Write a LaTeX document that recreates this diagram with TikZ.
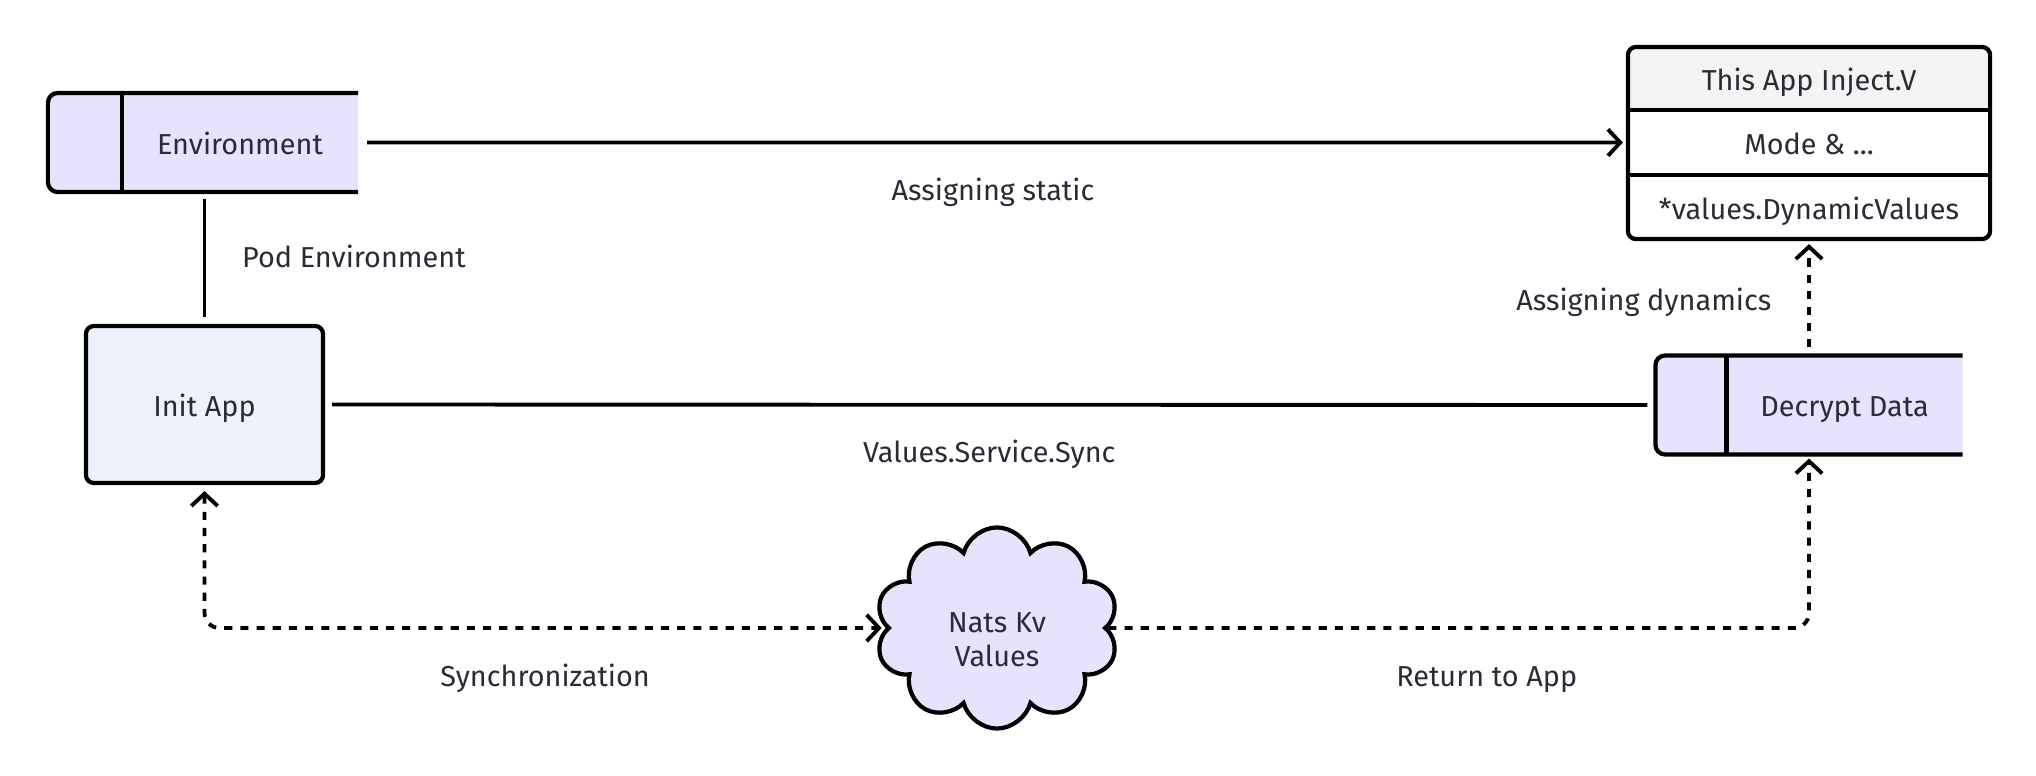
\documentclass[tikz,border=0pt]{standalone}
\usepackage{fontspec}
\setmainfont{Fira Sans}
\usetikzlibrary{arrows.meta, shapes.symbols, positioning, backgrounds}

\definecolor{lav}{HTML}{E8E2FD}
\definecolor{paleblue}{HTML}{EEF2FC}
\definecolor{hdr}{HTML}{F4F4F4}
\definecolor{ink}{HTML}{2A2B36}

\begin{document}
\begin{tikzpicture}[
  x=0.01cm, y=-0.01cm,
  font=\fontsize{8.2}{9.8}\selectfont, text=ink,
  boxtext/.style={text height=0.68em, text depth=0pt},
  lbl/.style={text height=0.75em, text depth=0.25em},
  tagbox/.style={rectangle, boxtext, minimum width=2.36cm, minimum height=0.99cm,
    inner sep=0pt, outer sep=0pt},
  appbox/.style={rectangle, boxtext, draw=black, line width=1.2pt, rounded corners=2.3pt,
    fill=paleblue, minimum width=2.37cm, minimum height=1.57cm, outer sep=0pt},
  row/.style={rectangle, boxtext, minimum width=3.62cm, inner sep=0pt, outer sep=0pt},
  kvcloud/.style={cloud, cloud puffs=10, cloud ignores aspect, draw=black,
    line width=1.2pt, fill=lav, minimum width=2.43cm, minimum height=2.01cm,
    inner sep=0pt},
  edge/.style={line width=1.2pt},
  conn/.style={line width=1.1pt},
  arr/.style={conn, -{Straight Barb[length=3.5pt, width=7.5pt]}},
  arrs/.style={conn, {Straight Barb[length=3.5pt, width=7.5pt]}-{Straight Barb[length=3.5pt, width=7.5pt]}},
  dots/.style={dash pattern=on 2.3pt off 2.3pt}
]
\useasboundingbox (0,0) rectangle (2036,776);

% boxes
\node[tagbox] (env) at (240,142.5) {Environment};
\node[appbox] (init) at (204.5,404.5) {Init App};
\node[tagbox] (dec) at (1844.5,405) {Decrypt Data};
\node[kvcloud] (kv) at (997,628) {};
\node[align=center] (kvtext) at (997,640) {Nats Kv\\Values};

% injected values table
\node[row, minimum height=0.63cm] (h1) at (1809,78.5) {This App Inject.V};
\node[row, minimum height=0.65cm, below=0pt of h1] (h2) {Mode \& ...};
\node[row, minimum height=0.64cm, below=0pt of h2] (h3) {*values.DynamicValues};

\begin{scope}[on background layer]
\draw[edge, fill=lav, rounded corners=2.8pt] (env.north east) -- ([xshift=-0.74cm]env.north west)
  -- ([xshift=-0.74cm]env.south west) -- (env.south east);
\draw[edge, fill=lav, rounded corners=2.8pt] (dec.north east) -- ([xshift=-0.71cm]dec.north west)
  -- ([xshift=-0.71cm]dec.south west) -- (dec.south east);
\fill[white, rounded corners=2.3pt] (h1.north west) rectangle (h3.south east);
\fill[hdr] (h1.south west) [rounded corners=2.3pt] -- (h1.north west) -- (h1.north east)
  [sharp corners] -- (h1.south east) -- cycle;
\end{scope}
\draw[edge] (env.north west) -- (env.south west);
\draw[edge] (dec.north west) -- (dec.south west);
\draw[edge, rounded corners=2.3pt] (h1.north west) rectangle (h3.south east);
\draw[edge] (h1.south west) -- (h1.south east);
\draw[edge] (h2.south west) -- (h2.south east);

% connectors
\draw[arr, shorten <=0.09cm, shorten >=0.05cm] (env.east) -- node[lbl, below=0.18cm] {Assigning static} (h2.west);
\draw[conn, shorten <=0.07cm, shorten >=0.09cm] (env.south -| init.north) -- node[lbl, right=0.24cm] {Pod Environment} (init.north);
\draw[conn, shorten <=0.09cm, shorten >=0.08cm] (init.east) -- node[lbl, below=0.18cm] {Values.Service.Sync} ([xshift=-0.71cm]dec.west);
\draw[arr, dots, shorten <=0.08cm, shorten >=0.05cm] (dec.north -| h3.south) -- node[lbl, left=0.24cm, yshift=-0.04cm] {Assigning dynamics} (h3.south);
\draw[arrs, dots, rounded corners=0.15cm, shorten <=0.08cm, shorten >=0.04cm] (init.south) |- node[lbl, pos=0.75, below=0.18cm] {Synchronization} (kv.west);
\draw[arr, dots, rounded corners=0.15cm, shorten >=0.04cm] (kv.east) -| node[lbl, pos=0.27, below=0.18cm] {Return to App} (h3.south |- dec.south);
\end{tikzpicture}
\end{document}
